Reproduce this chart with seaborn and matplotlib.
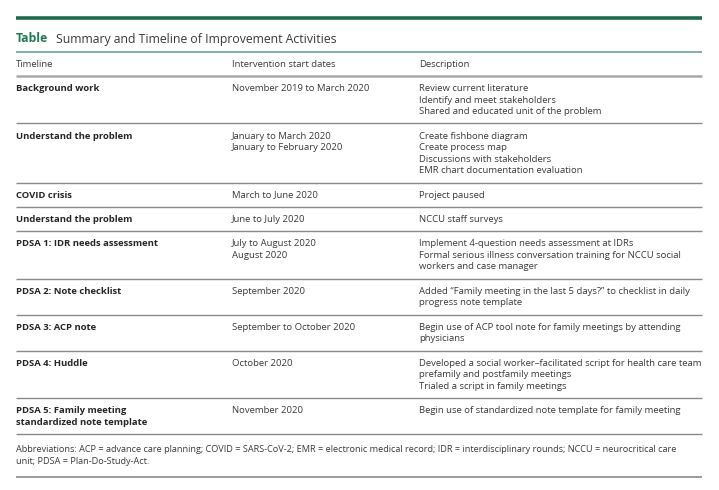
import matplotlib
matplotlib.use("Agg")
import matplotlib.pyplot as plt
import seaborn as sns

sns.set_theme(style="white")
plt.rcParams['font.family'] = ['Open Sans', 'DejaVu Sans']

title_label = "Table"
title_text = "Summary and Timeline of Improvement Activities"
headers = ["Timeline", "Intervention start dates", "Description"]

timeline = [
    ["Background work"],
    ["Understand the problem"],
    ["COVID crisis"],
    ["Understand the problem"],
    ["PDSA 1: IDR needs assessment"],
    ["PDSA 2: Note checklist"],
    ["PDSA 3: ACP note"],
    ["PDSA 4: Huddle"],
    ["PDSA 5: Family meeting", "standardized note template"],
]
dates = [
    ["November 2019 to March 2020"],
    ["January to March 2020", "January to February 2020"],
    ["March to June 2020"],
    ["June to July 2020"],
    ["July to August 2020", "August 2020"],
    ["September 2020"],
    ["September to October 2020"],
    ["October 2020"],
    ["November 2020"],
]
descriptions = [
    ["Review current literature", "Identify and meet stakeholders",
     "Shared and educated unit of the problem"],
    ["Create fishbone diagram", "Create process map",
     "Discussions with stakeholders", "EMR chart documentation evaluation"],
    ["Project paused"],
    ["NCCU staff surveys"],
    ["Implement 4-question needs assessment at IDRs",
     "Formal serious illness conversation training for NCCU social",
     "workers and case manager"],
    ["Added \u201cFamily meeting in the last 5 days?\u201d to checklist in daily",
     "progress note template"],
    ["Begin use of ACP tool note for family meetings by attending",
     "physicians"],
    ["Developed a social worker\u2013facilitated script for health care team",
     "prefamily and postfamily meetings",
     "Trialed a script in family meetings"],
    ["Begin use of standardized note template for family meeting"],
]
footnote = [
    "Abbreviations: ACP = advance care planning; COVID = SARS-CoV-2; EMR = electronic medical record; IDR = interdisciplinary rounds; NCCU = neurocritical care",
    "unit; PDSA = Plan-Do-Study-Act.",
]

W, H = 719, 490
fig = plt.figure(figsize=(W / 100, H / 100), dpi=100)
ax = fig.add_axes([0, 0, 1, 1])
ax.set_xlim(0, W)
ax.set_ylim(H, 0)
ax.axis("off")

x0, x1 = 16, 702
col_x = [16, 232, 419]
fs = 6.8
line_h = 11.6
top_pad = 11
bot_pad = 13.3
dy = 1.5
txt_col = "#3a3a3a"
bold_col = "#262626"

# top thick green rule
ax.plot([x0, x1], [18, 18], color="#1d6b4c", lw=2.6, solid_capstyle="butt")
# title
ax.text(x0, 37.5 + dy, title_label, fontsize=8.8, fontweight="bold", color="#1f7a56",
        va="center", ha="left")
ax.text(56, 37.5 + dy, title_text, fontsize=8.8, color="#3a3a3a", va="center", ha="left")
# thin green rule
ax.plot([x0, x1], [52, 52], color="#5c9e80", lw=1.1, solid_capstyle="butt")
# header
for x, h in zip(col_x, headers):
    ax.text(x, 63 + dy, h, fontsize=fs, color=txt_col, va="center", ha="left")
ax.plot([x0, x1], [76, 76], color="#a8a8a8", lw=1.8, solid_capstyle="butt")

y = 76
for tl, dt, ds in zip(timeline, dates, descriptions):
    n = max(len(tl), len(dt), len(ds))
    ty = y + top_pad
    for i, s in enumerate(tl):
        ax.text(col_x[0], ty + i * line_h + dy, s, fontsize=fs, fontweight="bold",
                color=bold_col, va="center", ha="left")
    for i, s in enumerate(dt):
        ax.text(col_x[1], ty + i * line_h + dy, s, fontsize=fs, color=txt_col,
                va="center", ha="left")
    for i, s in enumerate(ds):
        ax.text(col_x[2], ty + i * line_h + dy, s, fontsize=fs, color=txt_col,
                va="center", ha="left")
    y = ty + (n - 1) * line_h + bot_pad
    ax.plot([x0, x1], [y, y], color="#8a8a8a", lw=1.0, solid_capstyle="butt")

fy = y + 14
for i, s in enumerate(footnote):
    ax.text(x0, fy + i * line_h + dy, s, fontsize=6.55, color=txt_col,
            va="center", ha="left")
yb = fy + (len(footnote) - 1) * line_h + 17
ax.plot([x0, x1], [yb, yb], color="#8a8a8a", lw=1.2, solid_capstyle="butt")

fig.savefig("out.png", dpi=100, facecolor="white")
